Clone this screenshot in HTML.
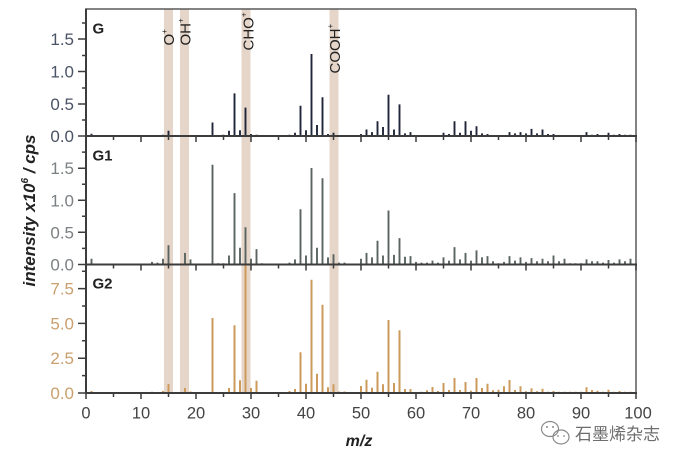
<!DOCTYPE html>
<html><head><meta charset="utf-8"><style>
html,body{margin:0;padding:0;background:#fff;}
svg{display:block;}
text{font-family:"Liberation Sans",Arial,sans-serif;}
</style></head><body>
<svg width="681" height="462" viewBox="0 0 681 462" xmlns="http://www.w3.org/2000/svg">
<rect x="0" y="0" width="681" height="462" fill="#fff"/>
<g fill="#e6d6c9">
<rect x="164" y="9" width="9" height="384"/>
<rect x="180" y="9" width="9" height="384"/>
<rect x="241.5" y="9" width="9" height="384"/>
<rect x="329.5" y="9" width="9" height="384"/>
</g>
<path fill="none" stroke="#1f2639" stroke-width="1.9" d="M91.5 136V133.7M152 136V135M157.5 136V135M163 136V134.7M168.5 136V130.8M212.5 136V122.5M223.5 136V134.7M229 136V130.8M234.5 136V93.4M240 136V130.2M245.5 136V107.6M251 136V134M256.5 136V134.7M289.5 136V134.7M295 136V132.8M300.5 136V105.7M306 136V130.2M311.5 136V54M317 136V125M322.5 136V97.3M328 136V134M333.5 136V132.8M339 136V135M361 136V134M366.5 136V129.5M372 136V132.1M377.5 136V121.2M383 136V127M388.5 136V94.7M394 136V129.5M399.5 136V104.4M405 136V133.4M410.5 136V132.1M421.5 136V135.2M427 136V135.2M432.5 136V135M438 136V135.2M443.5 136V132.8M449 136V134M454.5 136V121.2M460 136V132.8M465.5 136V121.2M471 136V130.8M476.5 136V126.3M482 136V133.4M487.5 136V134M493 136V135M509.5 136V132.1M515 136V133.4M520.5 136V132.1M526 136V133.4M531.5 136V128.9M537 136V133.4M542.5 136V129.5M548 136V134M553.5 136V134M559 136V135M564.5 136V135M586.5 136V132.1M592 136V134.7M597.5 136V134M608.5 136V132.8M614 136V134.7M619.5 136V134M625 136V134.7M630.5 136V134.7"/>
<path fill="none" stroke="#5a6460" stroke-width="1.9" d="M91.5 264.5V258.7M152 264.5V261.9M157.5 264.5V262.6M163 264.5V258.7M168.5 264.5V245.2M185 264.5V252.9M190.5 264.5V259.4M212.5 264.5V164.8M218 264.5V263.2M223.5 264.5V263.2M229 264.5V255.5M234.5 264.5V193.1M240 264.5V247.8M245.5 264.5V227.2M251 264.5V258.7M256.5 264.5V249.1M262 264.5V263.2M289.5 264.5V262.6M295 264.5V259.4M300.5 264.5V209.2M306 264.5V255.5M311.5 264.5V168M317 264.5V247.8M322.5 264.5V178.3M328 264.5V257.4M333.5 264.5V254.2M339 264.5V262.6M344.5 264.5V262.6M361 264.5V258.7M366.5 264.5V252.9M372 264.5V257.4M377.5 264.5V240.7M383 264.5V255.5M388.5 264.5V210.5M394 264.5V254.9M399.5 264.5V238.1M405 264.5V256.8M410.5 264.5V256.1M416 264.5V261.9M421.5 264.5V262.6M427 264.5V262.6M432.5 264.5V260.6M438 264.5V262.6M443.5 264.5V257.4M449 264.5V260.6M454.5 264.5V247.1M460 264.5V259.4M465.5 264.5V252.9M471 264.5V260.6M476.5 264.5V250.4M482 264.5V257.4M487.5 264.5V256.1M493 264.5V261.3M498.5 264.5V263.2M504 264.5V261.9M509.5 264.5V256.1M515 264.5V260.6M520.5 264.5V257.4M526 264.5V261.9M531.5 264.5V258.1M537 264.5V261.3M542.5 264.5V258.7M548 264.5V261.3M553.5 264.5V255.5M559 264.5V261.3M564.5 264.5V258.7M570 264.5V263.2M575.5 264.5V263.2M581 264.5V263.2M586.5 264.5V259.4M592 264.5V261.3M597.5 264.5V261.3M603 264.5V262.6M608.5 264.5V260M614 264.5V262.6M619.5 264.5V259.4M625 264.5V261.3M630.5 264.5V258.7"/>
<path fill="none" stroke="#cc9b5c" stroke-width="2" d="M91.5 393V391M152 393V391.7M157.5 393V392M163 393V391M168.5 393V384M185 393V388M190.5 393V391.5M212.5 393V318M229 393V388M234.5 393V325.3M240 393V380.3M245.5 393V264.5M251 393V388M256.5 393V380.7M289.5 393V391M295 393V389M300.5 393V352.3M306 393V383.7M311.5 393V279.7M317 393V373.7M322.5 393V304.7M328 393V387.3M333.5 393V384.3M339 393V391.5M344.5 393V391.5M361 393V386M366.5 393V379.7M372 393V387.7M377.5 393V371.7M383 393V384.3M388.5 393V320M394 393V383M399.5 393V330.3M405 393V389M410.5 393V389M416 393V392M421.5 393V391.7M427 393V390.3M432.5 393V387M438 393V391M443.5 393V383M449 393V390M454.5 393V378M460 393V390M465.5 393V382M471 393V390.7M476.5 393V378M482 393V388M487.5 393V383.7M493 393V390.3M498.5 393V389.7M504 393V386.3M509.5 393V380M515 393V390M520.5 393V386.3M526 393V391.3M531.5 393V388.3M537 393V391.3M542.5 393V388.7M548 393V391.7M553.5 393V391M559 393V391.7M564.5 393V391.7M570 393V391.7M575.5 393V391.7M581 393V391.7M586.5 393V387.3M592 393V390M597.5 393V390.7M603 393V391.7M608.5 393V389.7M614 393V391.7M619.5 393V391M625 393V391.7M630.5 393V391.7"/>
<g fill="none" stroke="#5a5a5a" stroke-width="1.5">
<line x1="86" y1="9" x2="636" y2="9"/>
<line x1="636" y1="9" x2="636" y2="393"/>
</g>
<g stroke="#3c3c3c" stroke-width="2">
<line x1="86" y1="8.5" x2="86" y2="394"/>
<line x1="85" y1="136" x2="637" y2="136"/>
<line x1="85" y1="264.5" x2="637" y2="264.5"/>
<line x1="85" y1="393" x2="637" y2="393"/>
</g>
<g stroke="#3c3c3c" stroke-width="1.5" fill="none">
<path d="M86 136v6M113.5 136v4M141 136v6M168.5 136v4M196 136v6M223.5 136v4M251 136v6M278.5 136v4M306 136v6M333.5 136v4M361 136v6M388.5 136v4M416 136v6M443.5 136v4M471 136v6M498.5 136v4M526 136v6M553.5 136v4M581 136v6M608.5 136v4M636 136v6"/>
<path d="M86 264.5v6M113.5 264.5v4M141 264.5v6M168.5 264.5v4M196 264.5v6M223.5 264.5v4M251 264.5v6M278.5 264.5v4M306 264.5v6M333.5 264.5v4M361 264.5v6M388.5 264.5v4M416 264.5v6M443.5 264.5v4M471 264.5v6M498.5 264.5v4M526 264.5v6M553.5 264.5v4M581 264.5v6M608.5 264.5v4M636 264.5v6"/>
<path d="M86 393v6M113.5 393v4M141 393v6M168.5 393v4M196 393v6M223.5 393v4M251 393v6M278.5 393v4M306 393v6M333.5 393v4M361 393v6M388.5 393v4M416 393v6M443.5 393v4M471 393v6M498.5 393v4M526 393v6M553.5 393v4M581 393v6M608.5 393v4M636 393v6"/>
<path d="M78 136h8M82 120h4M78 104h8M82 88h4M78 71.5h8M82 55.5h4M78 39h8M82 23h4"/>
<path d="M78 264.5h8M82 248.4h4M78 232.3h8M82 216.3h4M78 200.3h8M82 184.2h4M78 168.2h8M82 152.1h4"/>
<path d="M78 393h8M82 375.6h4M78 358.2h8M82 340.8h4M78 323.4h8M82 306h4M78 288.6h8M82 271.2h4"/>
</g>
<g font-size="17" text-anchor="end" fill="#4b5366">
<text x="74" y="142">0.0</text>
<text x="74" y="110">0.5</text>
<text x="74" y="77.5">1.0</text>
<text x="74" y="45">1.5</text>
</g>
<g font-size="17" text-anchor="end" fill="#7b8082">
<text x="74" y="270.5">0.0</text>
<text x="74" y="238.3">0.5</text>
<text x="74" y="206.3">1.0</text>
<text x="74" y="174.2">1.5</text>
</g>
<g font-size="17" text-anchor="end" fill="#caa06e">
<text x="74" y="399">0.0</text>
<text x="74" y="364.2">2.5</text>
<text x="74" y="329.4">5.0</text>
<text x="74" y="294.6">7.5</text>
</g>
<g font-size="16.5" text-anchor="middle" fill="#444">
<text x="86" y="418.5">0</text>
<text x="141" y="418.5">10</text>
<text x="196" y="418.5">20</text>
<text x="251" y="418.5">30</text>
<text x="306" y="418.5">40</text>
<text x="361" y="418.5">50</text>
<text x="416" y="418.5">60</text>
<text x="471" y="418.5">70</text>
<text x="526" y="418.5">80</text>
<text x="581" y="418.5">90</text>
<text x="638" y="418.5">100</text>
</g>
<text x="359" y="446" font-size="16" font-weight="bold" font-style="italic" text-anchor="middle" fill="#222">m/z</text>
<text transform="translate(35,210.5) rotate(-90)" font-size="17" font-weight="bold" font-style="italic" text-anchor="middle" fill="#222">intensity x10<tspan font-size="10" dy="-7">6</tspan><tspan dy="7"> / cps</tspan></text>
<g font-size="15" font-weight="bold" fill="#222">
<text x="92.5" y="33.5">G</text>
<text x="92.5" y="160.5">G1</text>
<text x="92.5" y="288.5">G2</text>
</g>
<g font-size="15" fill="#222">
<text transform="translate(174,45.5) rotate(-90)">O<tspan font-size="8" dy="-7">+</tspan></text>
<text transform="translate(190.5,45.5) rotate(-90)">OH<tspan font-size="8" dy="-7">+</tspan></text>
<text transform="translate(253.5,50.5) rotate(-90)">CHO<tspan font-size="8" dy="-7">+</tspan></text>
<text transform="translate(340,73.5) rotate(-90)">COOH<tspan font-size="8" dy="-7">+</tspan></text>
</g>
<g fill="none" stroke="#8a8a8a" stroke-width="1.2">
<ellipse cx="550" cy="429" rx="8.5" ry="7.5"/>
<ellipse cx="561" cy="437" rx="8" ry="7"/>
</g>
<g fill="#8a8a8a">
<circle cx="547" cy="427" r="1"/>
<circle cx="553" cy="427" r="1"/>
<circle cx="558" cy="436" r="0.9"/>
<circle cx="564" cy="436" r="0.9"/>
</g>
<text x="575" y="440" font-size="17" fill="#6e6e6e" font-family="'Liberation Sans','Noto Sans CJK SC',sans-serif">石墨烯杂志</text>
</svg>
</body></html>
